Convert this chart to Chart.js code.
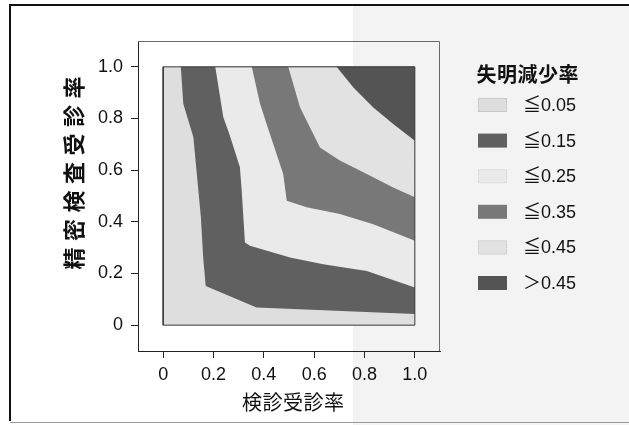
<!DOCTYPE html>
<html>
<head>
<meta charset="utf-8">
<script src="https://cdn.jsdelivr.net/npm/chart.js@4.4.1/dist/chart.umd.min.js"></script>
<style>
  html, body { margin: 0; padding: 0; background: #fff; }
  canvas { display: block; }
</style>
</head>
<body>
<canvas id="c" width="629" height="425"></canvas>
<script>
// Axis ticks and labels
const axisTicks = [0, 0.2, 0.4, 0.6, 0.8, 1.0];
const xTickLabels = ['0', '0.2', '0.4', '0.6', '0.8', '1.0'];
const yTickLabels = ['0', '0.2', '0.4', '0.6', '0.8', '1.0'];
const xTitle = '検診受診率';
const yTitle = '精密検査受診率';
const legendTitle = '失明減少率';
const bandLabels = ['≦0.05', '≦0.15', '≦0.25', '≦0.35', '≦0.45', '＞0.45'];

// Contour lines [screening rate, exam rate]; each runs from the top edge to the right edge
const edge05 = [[0.07, 1.0], [0.08, 0.857], [0.12, 0.727], [0.15, 0.417], [0.159, 0.262], [0.169, 0.152], [0.371, 0.068], [1.0, 0.043]];
const edge15 = [[0.207, 1.0], [0.239, 0.805], [0.263, 0.74], [0.305, 0.611], [0.312, 0.521], [0.325, 0.32], [0.345, 0.307], [0.504, 0.262], [0.636, 0.236], [0.809, 0.21], [1.0, 0.146]];
const edge25 = [[0.352, 1.0], [0.385, 0.857], [0.411, 0.779], [0.477, 0.585], [0.491, 0.482], [0.57, 0.456], [0.702, 0.43], [0.835, 0.391], [1.0, 0.327]];
const edge35 = [[0.497, 1.0], [0.544, 0.843], [0.623, 0.688], [0.702, 0.637], [0.809, 0.585], [0.914, 0.533], [1.0, 0.495]];
const edge45 = [[0.689, 1.0], [0.755, 0.921], [0.835, 0.843], [0.914, 0.779], [1.0, 0.714]];
const unitSquare = [[0, 0], [1, 0], [1, 1], [0, 1]];

// Fill colours for each band
const bandColors = ['#dedede', '#606060', '#eaeaea', '#787878', '#e2e2e2', '#545454'];
const bandBorders = ['#b5b5b5', null, '#d0d0d0', null, '#c4c4c4', null];

const LATIN = "'Liberation Sans', Arial, 'Noto Sans CJK JP', sans-serif";
const CJK = "'Noto Sans CJK JP', 'Noto Sans CJK SC', sans-serif";

const toXY = pts => pts.map(([x, y]) => ({ x, y }));
const corner = [[1, 1]];
const bandShapes = [unitSquare, edge05.concat(corner), edge15.concat(corner), edge25.concat(corner), edge35.concat(corner), edge45.concat(corner)];

const datasets = bandShapes.map((pts, i) => ({
  label: bandLabels[i],
  data: toXY(pts),
  showLine: true,
  fill: 'shape',
  backgroundColor: bandColors[i],
  borderColor: 'rgba(0,0,0,0)',
  borderWidth: 0,
  pointRadius: 0,
  pointHoverRadius: 0,
  tension: 0,
  order: 10 - i
}));
// outline of the surface
datasets.push({
  label: 'outline',
  data: toXY(unitSquare.concat([unitSquare[0]])),
  showLine: true,
  fill: false,
  borderColor: '#3a3a3a',
  borderWidth: 1,
  pointRadius: 0,
  order: 0
});

// draws text centred on (0,0) of the current transform with extra letter spacing
function spacedText(ctx, text, spacing) {
  ctx.letterSpacing = spacing + 'px';
  const w = ctx.measureText(text).width - spacing;
  ctx.textAlign = 'left';
  ctx.textBaseline = 'middle';
  ctx.fillText(text, -w / 2, 0);
  ctx.letterSpacing = '0px';
}

const decor = {
  id: 'decor',
  beforeDraw(chart) {
    const { ctx, width, height } = chart;
    ctx.save();
    ctx.fillStyle = '#ffffff';
    ctx.fillRect(0, 0, width, height);
    // scanned-paper tone on the right part of the sheet
    ctx.fillStyle = '#f3f3f3';
    ctx.fillRect(353, 6, width - 353, height - 6);
    // sheet frame
    ctx.strokeStyle = '#111';
    ctx.lineWidth = 2;
    ctx.beginPath();
    ctx.moveTo(10, 421);
    ctx.lineTo(10, 5);
    ctx.lineTo(width, 5);
    ctx.stroke();
    ctx.strokeStyle = '#9a9a9a';
    ctx.lineWidth = 1;
    ctx.beginPath();
    ctx.moveTo(10, 422.5);
    ctx.lineTo(width, 422.5);
    ctx.stroke();
    ctx.restore();
  },
  afterDraw(chart) {
    const { ctx, chartArea: a } = chart;
    ctx.save();
    // top and right sides of the plot frame
    ctx.strokeStyle = '#6a6a6a';
    ctx.lineWidth = 1;
    ctx.beginPath();
    ctx.moveTo(a.left, a.top + 0.5);
    ctx.lineTo(a.right - 0.5, a.top + 0.5);
    ctx.lineTo(a.right - 0.5, a.bottom);
    ctx.stroke();

    // axis titles
    ctx.fillStyle = '#111';
    ctx.font = `20px ${CJK}`;
    ctx.save();
    ctx.translate(293, 402);
    spacedText(ctx, xTitle, 0.5);
    ctx.restore();
    ctx.font = `bold 22px ${CJK}`;
    ctx.save();
    ctx.translate(73.5, 173);
    ctx.rotate(-Math.PI / 2);
    spacedText(ctx, yTitle, 6.5);
    ctx.restore();

    // legend
    const lx = 478, bw = 29, bh = 14, y0 = 105, step = 35.6;
    ctx.fillStyle = '#111';
    ctx.font = `bold 20px ${CJK}`;
    ctx.save();
    ctx.translate(527.5, 74);
    spacedText(ctx, legendTitle, 0.5);
    ctx.restore();
    ctx.font = `18px ${LATIN}`;
    ctx.textAlign = 'left';
    ctx.textBaseline = 'middle';
    bandLabels.forEach((lab, i) => {
      const cy = y0 + i * step;
      ctx.fillStyle = bandColors[i];
      ctx.fillRect(lx, cy - bh / 2, bw, bh);
      if (bandBorders[i]) {
        ctx.strokeStyle = bandBorders[i];
        ctx.setLineDash([1, 1]);
        ctx.strokeRect(lx + 0.5, cy - bh / 2 + 0.5, bw - 1, bh - 1);
        ctx.setLineDash([]);
      }
      ctx.fillStyle = '#111';
      ctx.fillText(lab, 523, cy + 1);
    });
    ctx.restore();
  }
};

const tickFont = { family: LATIN, size: 18 };

new Chart(document.getElementById('c'), {
  type: 'scatter',
  data: { datasets },
  options: {
    responsive: false,
    animation: false,
    devicePixelRatio: 1,
    layout: { padding: { left: 61, top: 41, right: 189, bottom: 11 } },
    plugins: {
      legend: { display: false },
      tooltip: { enabled: false }
    },
    scales: {
      x: {
        type: 'linear',
        min: -0.1,
        max: 1.1,
        afterBuildTicks: s => { s.ticks = axisTicks.map(v => ({ value: v })); },
        afterFit: s => { s.height = 63; },
        ticks: { callback: (v, i) => xTickLabels[i], font: tickFont, color: '#111', padding: 6, maxRotation: 0, autoSkip: false },
        grid: { drawOnChartArea: false, drawTicks: true, tickLength: 7, tickColor: '#222', tickWidth: 1 },
        border: { display: true, color: '#222', width: 1 },
        title: { display: false }
      },
      y: {
        type: 'linear',
        min: -0.1,
        max: 1.1,
        afterBuildTicks: s => { s.ticks = axisTicks.map(v => ({ value: v })); },
        afterFit: s => { s.width = 77; },
        ticks: { callback: (v, i) => yTickLabels[i], font: tickFont, color: '#111', padding: 8, autoSkip: false },
        grid: { drawOnChartArea: false, drawTicks: true, tickLength: 7, tickColor: '#222', tickWidth: 1 },
        border: { display: true, color: '#222', width: 1 },
        title: { display: false }
      }
    }
  },
  plugins: [decor]
});
</script>
</body>
</html>
